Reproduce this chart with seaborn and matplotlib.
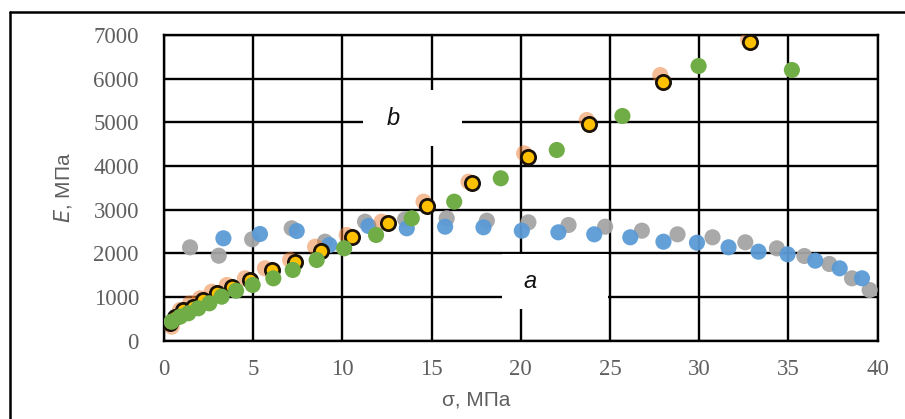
import matplotlib
matplotlib.use("Agg")
import matplotlib.pyplot as plt
from matplotlib.patches import Rectangle
from matplotlib.lines import Line2D
import seaborn as sns
import pandas as pd

# ---- data ----
gray_x = [1.46, 3.07, 4.94, 7.16, 9.03, 11.27, 13.52, 15.85, 18.10, 20.43, 22.68,
          24.73, 26.79, 28.79, 30.75, 32.59, 34.36, 35.90, 37.30, 38.57, 39.56]
gray_y = [2135, 1943, 2319, 2571, 2264, 2723, 2777, 2800, 2746, 2708, 2647,
          2608, 2516, 2433, 2365, 2250, 2112, 1936, 1753, 1425, 1157]

blue_x = [3.33, 5.38, 7.44, 9.27, 11.46, 13.61, 15.76, 17.91, 20.06, 22.11, 24.12,
          26.14, 28.00, 29.88, 31.65, 33.33, 34.96, 36.51, 37.88, 39.13]
blue_y = [2342, 2440, 2509, 2188, 2624, 2571, 2608, 2594, 2516, 2479, 2433,
          2365, 2264, 2241, 2136, 2035, 1975, 1829, 1654, 1425]

orange_x = [0.43, 0.90, 1.46, 2.02, 2.67, 3.52, 4.54, 5.66, 7.07, 8.47, 10.24,
            12.20, 14.55, 17.07, 20.19, 23.70, 27.82, 32.75]
orange_y = [316, 699, 852, 967, 1118, 1272, 1425, 1654, 1845, 2150, 2417,
            2723, 3181, 3640, 4289, 5052, 6083, 6890]

yellow_x = [0.34, 0.62, 1.08, 1.64, 2.20, 2.95, 3.80, 4.82, 6.04, 7.35, 8.79,
            10.53, 12.53, 14.73, 17.26, 20.38, 23.80, 28.00, 32.87]
yellow_y = [394, 546, 699, 775, 928, 1081, 1233, 1386, 1616, 1806, 2058,
            2365, 2686, 3089, 3602, 4198, 4961, 5931, 6847]

green_x = [0.43, 0.90, 1.36, 1.92, 2.54, 3.23, 4.04, 4.97, 6.13, 7.22, 8.56,
           10.10, 11.89, 13.89, 16.27, 18.88, 22.02, 25.70, 29.97, 35.20]
green_y = [431, 546, 623, 738, 852, 1004, 1141, 1272, 1425, 1616, 1845,
           2112, 2418, 2800, 3181, 3717, 4365, 5144, 6290, 6198]

x_ticks = [0, 5, 10, 15, 20, 25, 30, 35, 40]
y_ticks = [0, 1000, 2000, 3000, 4000, 5000, 6000, 7000]
x_label = "σ, МПа"
y_label = "E, МПа"
label_a = "a"
label_b = "b"

# ---- figure ----
sns.set_theme(style="white")
plt.rcParams['font.family'] = ['Liberation Sans', 'DejaVu Sans']

fig = plt.figure(figsize=(9.05, 4.19), dpi=100)
fig.patch.set_facecolor("white")
W, H = 905, 419
ax = fig.add_axes([164 / W, 1 - 340.5 / H, (877.5 - 164) / W, (340.5 - 35) / H])

ax.set_xlim(0, 40)
ax.set_ylim(0, 7000)
ax.set_xticks(x_ticks)
ax.set_yticks(y_ticks)
ax.grid(True, color="black", linewidth=1.7)
ax.set_axisbelow(True)
for sp in ax.spines.values():
    sp.set_color("black")
    sp.set_linewidth(1.7)
    sp.set_visible(True)

ax.tick_params(axis="both", length=0, labelsize=16.5, labelcolor="#5f5f5f")
ax.tick_params(axis="x", pad=13)
ax.tick_params(axis="y", pad=18)
for lab in ax.get_xticklabels() + ax.get_yticklabels():
    lab.set_family("Liberation Serif")

# white boxes behind labels a, b (interrupting the grid)
ax.add_patch(Rectangle((11.16, 4457), 16.71 - 11.16, 5740 - 4457,
                       facecolor="white", edgecolor="none", zorder=1))
ax.add_patch(Rectangle((18.96, 730), 24.9 - 18.96, 1985 - 730,
                       facecolor="white", edgecolor="none", zorder=1))

def df(x, y):
    return pd.DataFrame({"x": x, "y": y})

S = 135
sns.scatterplot(data=df(gray_x, gray_y), x="x", y="y", ax=ax, s=S,
                color="#a5a5a5", edgecolor="none", alpha=0.95, zorder=3)
sns.scatterplot(data=df(blue_x, blue_y), x="x", y="y", ax=ax, s=S,
                color="#5b9bd5", edgecolor="none", alpha=0.95, zorder=4)
sns.scatterplot(data=df(orange_x, orange_y), x="x", y="y", ax=ax, s=S,
                color="#ed7d31", edgecolor="none", alpha=0.5, zorder=5)
sns.scatterplot(data=df(yellow_x, yellow_y), x="x", y="y", ax=ax, s=105,
                color="#ffc000", edgecolor="#1a1208", linewidth=2.0, zorder=6)
sns.scatterplot(data=df(green_x, green_y), x="x", y="y", ax=ax, s=S,
                color="#70ad47", edgecolor="none", zorder=7)

ax.set_xlabel("")
ax.set_ylabel("")

ax.text(12.84, 5098, label_b, fontsize=17, style="italic", color="#111111",
        ha="center", va="center", zorder=8)
ax.text(20.5, 1347, label_a, fontsize=17, style="italic", color="#111111",
        ha="center", va="center", zorder=8)

# axis labels
fig.text(476 / W, 1 - 400 / H, x_label, fontsize=15, color="#5f5f5f",
         ha="center", va="center")
fig.text(63 / W, 1 - 188 / H, "$\\mathit{E}$, МПа", fontsize=15, color="#5f5f5f",
         ha="center", va="center", rotation=90)

# outer frame (left and top visible)
fig.add_artist(Line2D([10 / W, 10 / W], [0, 1 - 12 / H], transform=fig.transFigure,
                      color="black", linewidth=1.8))
fig.add_artist(Line2D([10 / W, 1], [1 - 12 / H, 1 - 12 / H], transform=fig.transFigure,
                      color="black", linewidth=1.8))

fig.savefig("out.png", dpi=100)
